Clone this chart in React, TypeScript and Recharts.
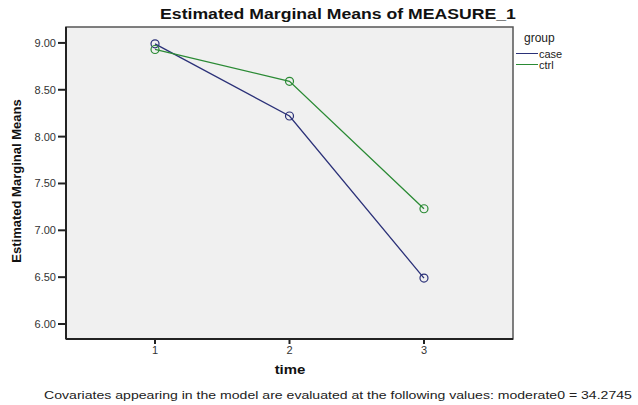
import { Line, LineChart, ReferenceArea, XAxis, YAxis } from "recharts";

const TIMES = [1, 2, 3];
const CASE_MEANS = [8.99, 8.22, 6.49];
const CTRL_MEANS = [8.93, 8.59, 7.23];
const Y_TICKS = [6, 6.5, 7, 7.5, 8, 8.5, 9];
const GROUPS = [
  { key: "case", nome: "case", cor: "#2b3178" },
  { key: "ctrl", nome: "ctrl", cor: "#2a8a34" },
];

const dados = TIMES.map((t, i) => ({ time: t, case: CASE_MEANS[i], ctrl: CTRL_MEANS[i] }));

const X_DOMAIN: [number, number] = [0.338, 3.662];
const Y_DOMAIN: [number, number] = [5.84, 9.17];
const FONTE = "'Liberation Sans', Arial, sans-serif";

function LegendaGrupo() {
  return (
    <div style={{ position: "absolute", left: 516, top: 31, fontFamily: FONTE, fontSize: 11, color: "#222" }}>
      <div style={{ fontSize: 12, marginLeft: 8, marginBottom: 3 }}>group</div>
      {GROUPS.map((g) => (
        <div key={g.key} style={{ display: "flex", alignItems: "center", height: 11 }}>
          <span style={{ width: 22, height: 1.5, backgroundColor: g.cor, display: "inline-block" }} />
          <span style={{ marginLeft: 1 }}>{g.nome}</span>
        </div>
      ))}
    </div>
  );
}

export default function App() {
  return (
    <div style={{ position: "absolute", left: 0, top: 0, width: 638, height: 405, background: "#fff", fontFamily: FONTE }}>
      <div
        style={{
          position: "absolute",
          left: 338,
          top: 6,
          transform: "translateX(-50%) scaleX(1.26)",
          fontSize: 14,
          fontWeight: "bold",
          color: "#111",
          whiteSpace: "nowrap",
        }}
      >
        Estimated Marginal Means of MEASURE_1
      </div>
      <LineChart width={638} height={405} data={dados} margin={{ top: 27, right: 125, bottom: 36, left: 0 }}>
        <ReferenceArea
          x1={X_DOMAIN[0]}
          x2={X_DOMAIN[1]}
          y1={Y_DOMAIN[0]}
          y2={Y_DOMAIN[1]}
          fill="#f0f0f0"
          fillOpacity={1}
          stroke="#555"
          strokeWidth={1.5}
          ifOverflow="visible"
        />
        <XAxis
          dataKey="time"
          type="number"
          domain={X_DOMAIN}
          ticks={TIMES}
          allowDataOverflow
          height={30}
          axisLine={{ stroke: "#222", strokeWidth: 2 }}
          tickLine={{ stroke: "#222", strokeWidth: 2 }}
          tickSize={5}
          tick={{ fill: "#333", fontSize: 11, fontFamily: FONTE }}
        />
        <YAxis
          type="number"
          domain={Y_DOMAIN}
          ticks={Y_TICKS}
          allowDataOverflow
          width={66}
          axisLine={{ stroke: "#222", strokeWidth: 2 }}
          tickLine={{ stroke: "#222", strokeWidth: 2 }}
          tickSize={8}
          tickFormatter={(v: number) => v.toFixed(2)}
          tick={{ fill: "#333", fontSize: 11, fontFamily: FONTE }}
        />
        {GROUPS.map((g) => (
          <Line
            key={g.key}
            dataKey={g.key}
            stroke={g.cor}
            strokeWidth={1.3}
            dot={{ r: 4, stroke: g.cor, strokeWidth: 1.2, fill: "none" }}
            activeDot={false}
            isAnimationActive={false}
          />
        ))}
      </LineChart>
      <LegendaGrupo />
      <div
        style={{
          position: "absolute",
          left: 16,
          top: 181,
          transform: "translate(-50%, -50%) rotate(-90deg)",
          fontSize: 13,
          fontWeight: "bold",
          color: "#111",
          whiteSpace: "nowrap",
          fontFamily: "'Liberation Sans Narrow', 'Liberation Sans', Arial, sans-serif",
        }}
      >
        Estimated Marginal Means
      </div>
      <div
        style={{
          position: "absolute",
          left: 290,
          top: 362,
          transform: "translateX(-50%) scaleX(1.15)",
          fontSize: 13,
          fontWeight: "bold",
          color: "#111",
        }}
      >
        time
      </div>
      <div
        style={{
          position: "absolute",
          left: 338,
          top: 389,
          transform: "translateX(-50%) scaleX(1.34)",
          fontSize: 10.5,
          color: "#222",
          whiteSpace: "nowrap",
        }}
      >
        Covariates appearing in the model are evaluated at the following values: moderate0 = 34.2745
      </div>
    </div>
  );
}
